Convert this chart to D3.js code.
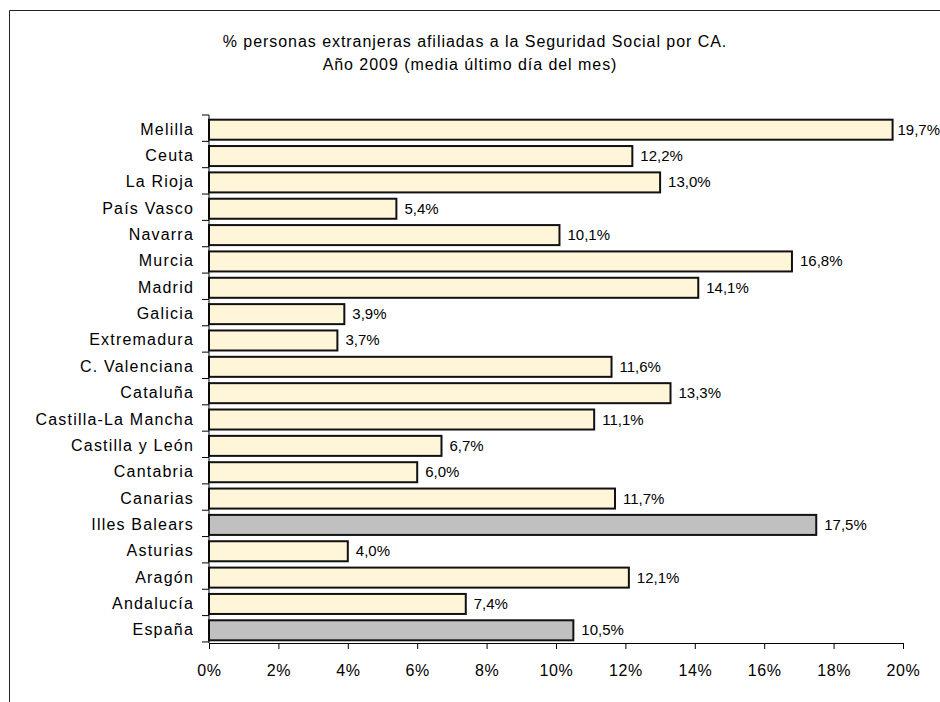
<!DOCTYPE html>
<html><head><meta charset="utf-8">
<script src="https://cdn.jsdelivr.net/npm/d3@7/dist/d3.min.js"></script>
<style>body{margin:0;background:#fff;} svg{display:block;font-family:"Liberation Sans",Arial,sans-serif;}</style>
</head><body>
<svg id="c" width="940" height="702"></svg>
<script>
const categories = ["Melilla","Ceuta","La Rioja","País Vasco","Navarra","Murcia","Madrid","Galicia","Extremadura","C. Valenciana","Cataluña","Castilla-La Mancha","Castilla y León","Cantabria","Canarias","Illes Balears","Asturias","Aragón","Andalucía","España"];
const values = [19.7,12.2,13.0,5.4,10.1,16.8,14.1,3.9,3.7,11.6,13.3,11.1,6.7,6.0,11.7,17.5,4.0,12.1,7.4,10.5];
const highlighted = ["Illes Balears","España"];
const tickValues = [0,2,4,6,8,10,12,14,16,18,20];
const titleLines = ["% personas extranjeras afiliadas a la Seguridad Social por CA.","Año 2009 (media último día del mes)"];

const W = 940;
const svg = d3.select("#c");
// outer frame (right and bottom edges fall outside the picture)
svg.append("path").attr("d","M9.5,702 L9.5,10.5 L940,10.5").attr("fill","none").attr("stroke","#222").attr("stroke-width",1);

const x = d3.scaleLinear().domain([0,20]).range([209,903]);
const y = d3.scaleBand().domain(categories).range([115,643]).paddingInner(0.24).paddingOuter(0.14);
const step = y.step();
const barShift = 1;

// title
svg.append("g").selectAll("text").data(titleLines).join("text")
  .attr("x",(d,i)=> i===0?475:470).attr("y",(d,i)=>47+i*23)
  .attr("text-anchor","middle").attr("font-size",16).attr("letter-spacing",0.95).attr("fill","#000").text(d=>d);

// bars
svg.append("g").selectAll("rect").data(categories).join("rect")
  .attr("x",x(0)).attr("y",d=>y(d)+barShift)
  .attr("width",(d,i)=>x(values[i])-x(0)).attr("height",y.bandwidth())
  .attr("fill",d=>highlighted.includes(d)?"#C0C0C0":"#FFF5D9")
  .attr("stroke","#111").attr("stroke-width",2);

// value labels
svg.append("g").selectAll("text").data(categories).join("text")
  .attr("y",d=>y(d)+barShift+y.bandwidth()/2+5)
  .attr("font-size",15).attr("fill","#000")
  .text((d,i)=>values[i].toFixed(1).replace(".",",")+"%")
  .each(function(d,i){
    const w = this.getComputedTextLength();
    this.setAttribute("x", Math.min(x(values[i])+8, W - w));
  });

// y axis
const ya = svg.append("g").attr("transform","translate(209,0)");
ya.append("line").attr("x1",0).attr("x2",0).attr("y1",115).attr("y2",643).attr("stroke","#000").attr("stroke-width",1);
ya.selectAll("line.t").data(d3.range(categories.length+1)).join("line").attr("class","t")
  .attr("x1",-7).attr("x2",0).attr("y1",i=>115+i*step).attr("y2",i=>115+i*step).attr("stroke","#000");
ya.selectAll("text").data(categories).join("text")
  .attr("x",-15).attr("y",d=>y(d)+y.bandwidth()/2+6)
  .attr("text-anchor","end").attr("font-size",16).attr("letter-spacing",1.2).attr("fill","#000").text(d=>d);

// x axis
const xa = svg.append("g").attr("transform","translate(0,643)")
  .call(d3.axisBottom(x).tickValues(tickValues).tickSize(6).tickPadding(16).tickFormat(d=>d+"%"));
xa.select(".domain").attr("stroke","#000");
xa.selectAll(".tick line").attr("stroke","#000");
xa.selectAll("text").attr("font-size",16).attr("letter-spacing",0.6).attr("fill","#000")
  .attr("font-family","Liberation Sans, Arial, sans-serif");
</script>
</body></html>
